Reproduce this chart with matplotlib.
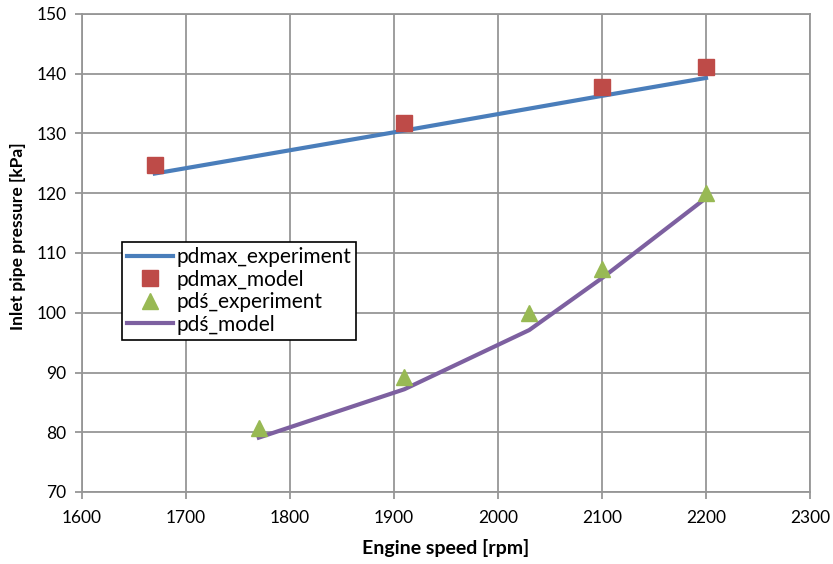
import matplotlib
matplotlib.use("Agg")
import matplotlib.pyplot as plt

plt.rcParams['font.family'] = ['Lato', 'DejaVu Sans']

# Data
pdmax_exp_x = [1670, 1910, 2100, 2200]
pdmax_exp_y = [123.3, 130.5, 136.3, 139.3]
pdmax_model_x = [1670, 1910, 2100, 2200]
pdmax_model_y = [124.7, 131.7, 137.7, 141.1]
pds_exp_x = [1770, 1910, 2030, 2100, 2200]
pds_exp_y = [80.7, 89.3, 100.0, 107.3, 120.1]
pds_model_x = [1770, 1910, 2030, 2100, 2200]
pds_model_y = [79.1, 87.2, 97.1, 105.8, 119.2]

x_ticks = [1600, 1700, 1800, 1900, 2000, 2100, 2200, 2300]
y_ticks = [70, 80, 90, 100, 110, 120, 130, 140, 150]

fig = plt.figure(figsize=(8.33, 5.64), dpi=100)
ax = fig.add_axes([82/833, 1 - 492/564, 728/833, 478/564])

grid_c = '#969696'
ax.plot(pdmax_exp_x, pdmax_exp_y, color='#4A7EBB', lw=3, label='pdmax_experiment', zorder=3)
ax.plot(pdmax_model_x, pdmax_model_y, ls='none', marker='s', ms=11, color='#BE4B48',
        markeredgecolor='#BE4B48', label='pdmax_model', zorder=4)
ax.plot(pds_exp_x, pds_exp_y, ls='none', marker='^', ms=12, color='#98B954',
        markeredgecolor='#98B954', label='pdś_experiment', zorder=4)
ax.plot(pds_model_x, pds_model_y, color='#7D60A0', lw=3, label='pdś_model', zorder=3)

ax.set_xlim(1600, 2300)
ax.set_ylim(70, 150)
ax.set_xticks(x_ticks)
ax.set_yticks(y_ticks)
ax.grid(True, color=grid_c, lw=1.3)
ax.set_axisbelow(True)
for s in ax.spines.values():
    s.set_color(grid_c)
    s.set_linewidth(1.3)
ax.tick_params(direction='out', length=5, color=grid_c, width=1.3, labelsize=12.5,
               labelcolor='#000000')
ax.tick_params(axis='x', pad=8)
ax.tick_params(axis='y', pad=6)

ax.set_xlabel('Engine speed [rpm]', fontsize=14, fontweight='bold', labelpad=9)
ax.set_ylabel('Inlet pipe pressure [kPa]', fontsize=12.5, fontweight='bold')
ax.yaxis.set_label_coords(-0.077, 0.535)

leg = ax.legend(loc='upper left', bbox_to_anchor=(0.055, 0.523), fontsize=15,
                frameon=True, fancybox=False, framealpha=1, edgecolor='black',
                borderpad=0.25, labelspacing=0.12, handlelength=2.2, handletextpad=0.15,
                borderaxespad=0)
leg.get_frame().set_linewidth(1.2)

fig.savefig('out.png', dpi=100)
